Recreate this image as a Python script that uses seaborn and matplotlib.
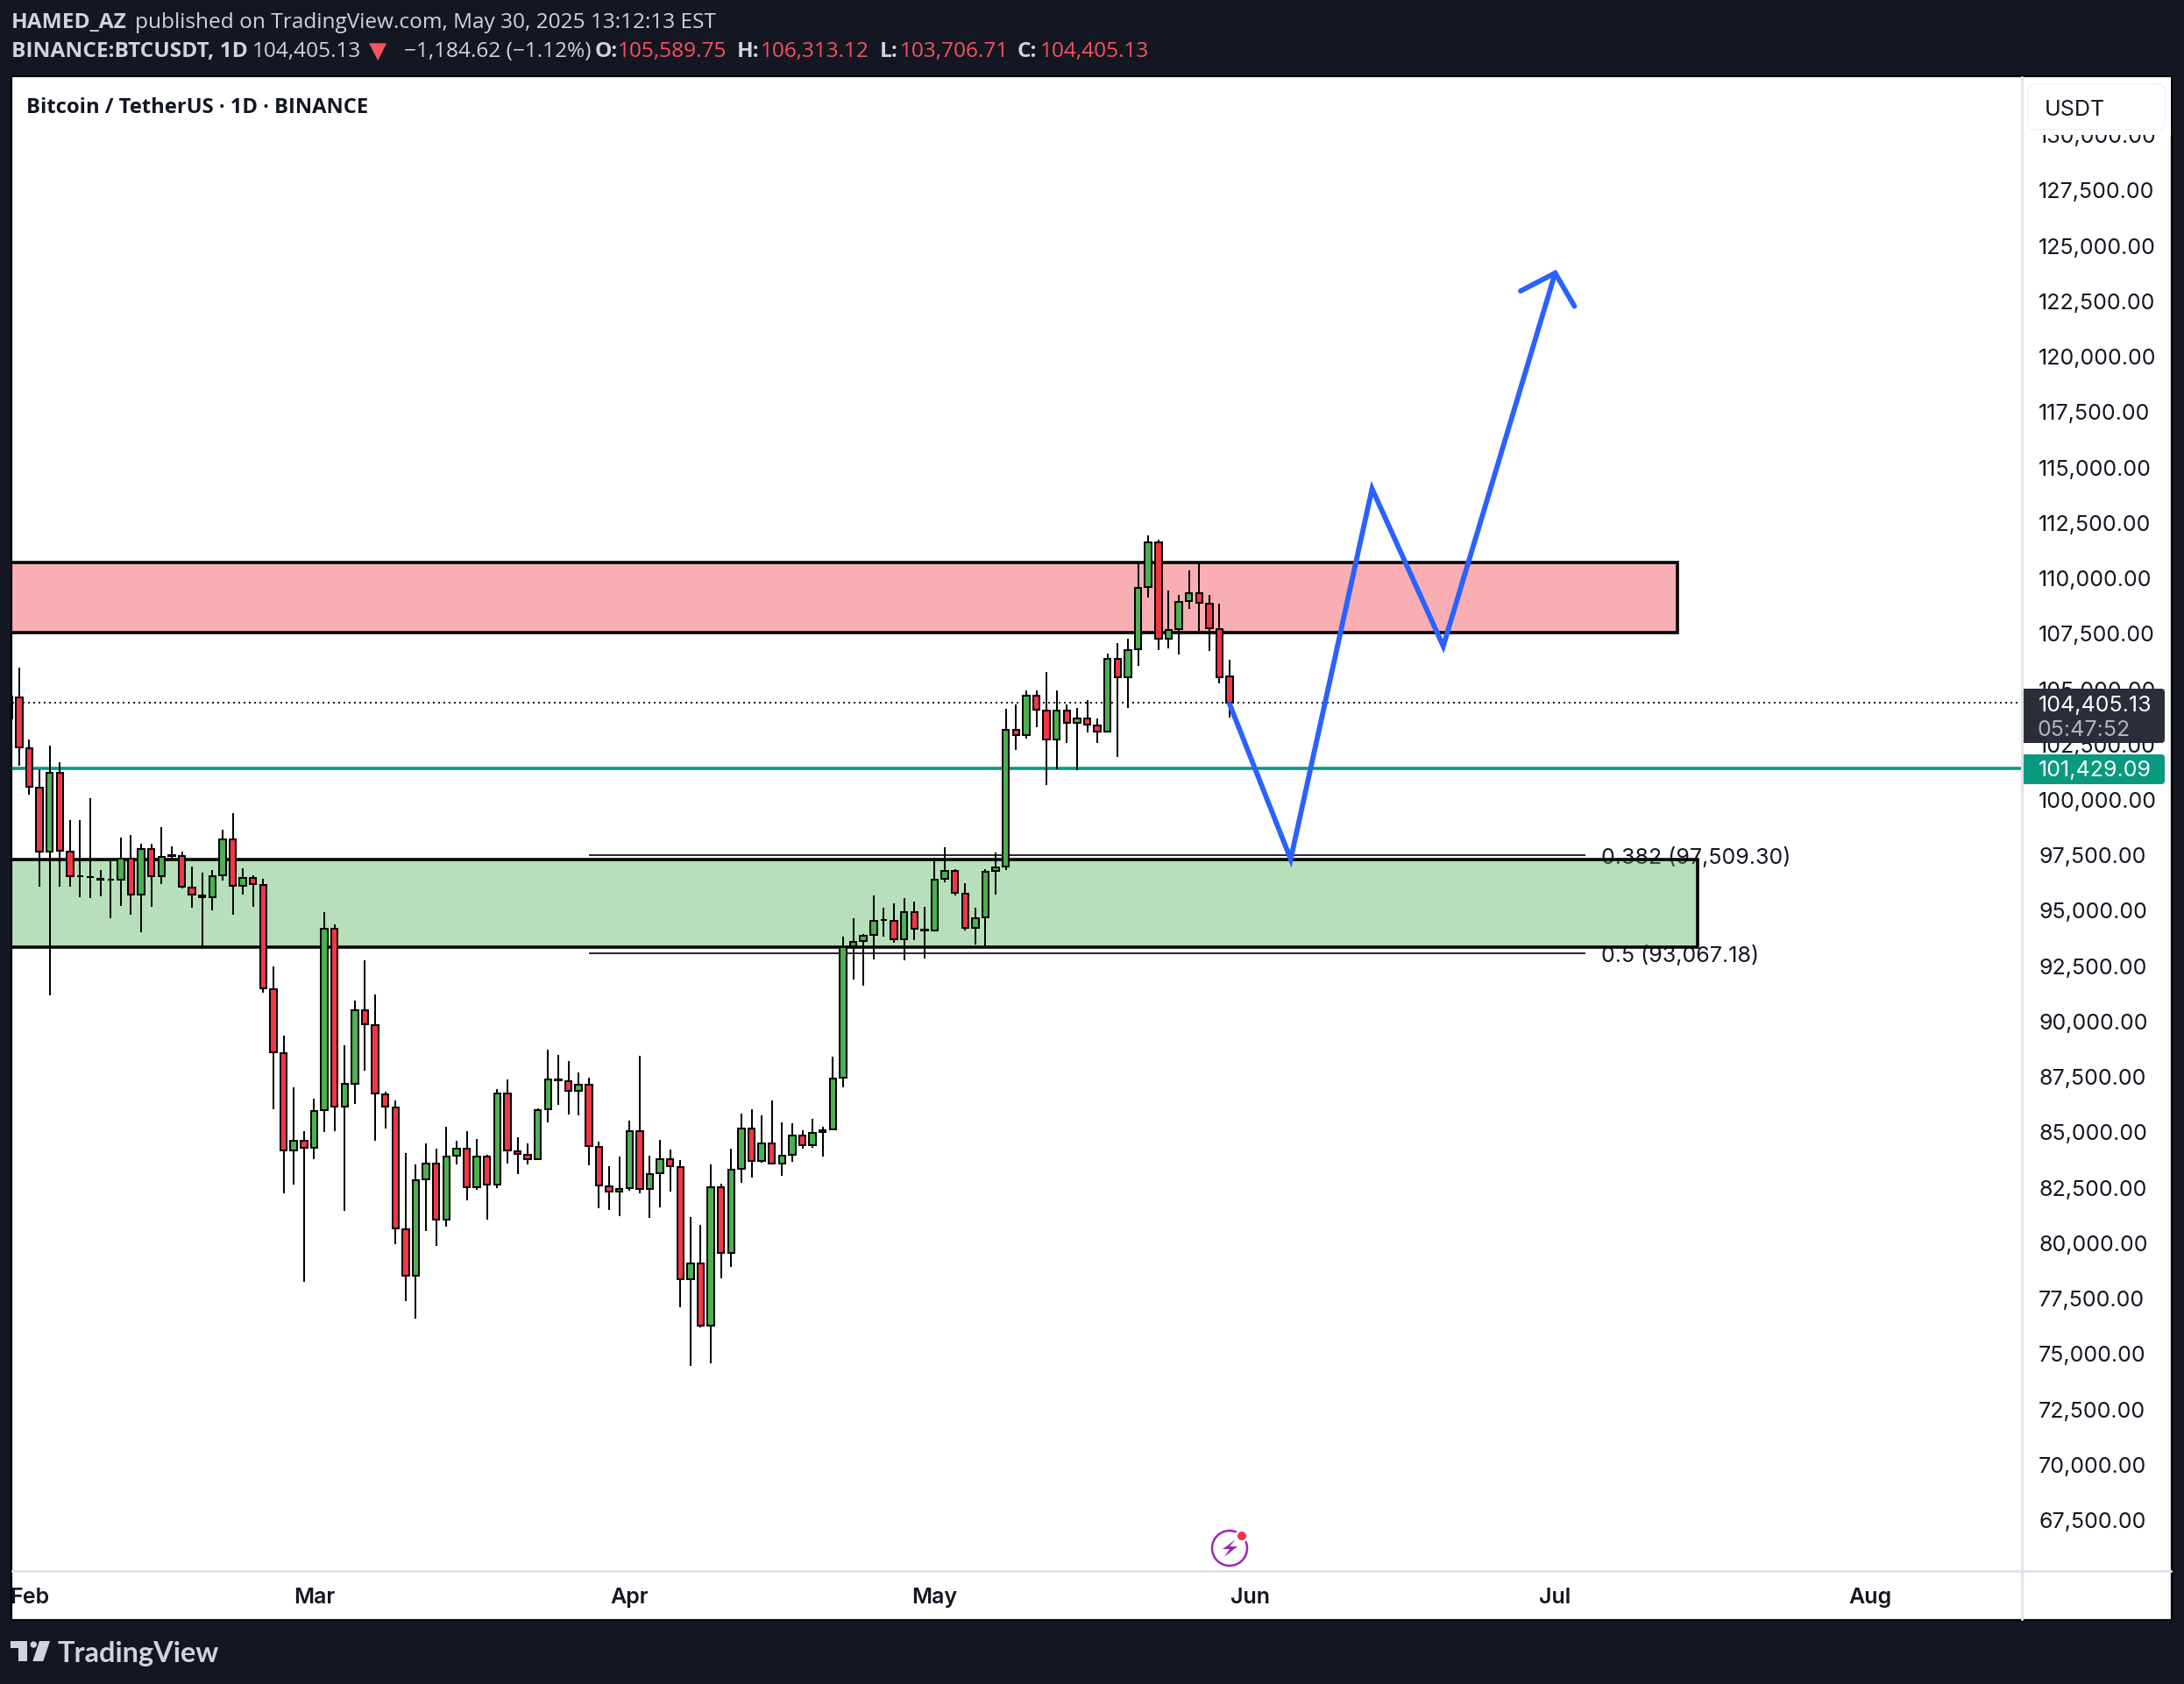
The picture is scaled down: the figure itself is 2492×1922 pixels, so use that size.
import numpy as np
import pandas as pd
import seaborn as sns
import matplotlib.pyplot as plt
from matplotlib.patches import Rectangle, FancyBboxPatch, Polygon, Circle

# daily candles, Jan 30 -> May 30 2025
opens = [
    103660, 104628, 102329, 100554, 97671, 101220, 97671, 96580, 96540, 96420,
    96420, 96400, 97348, 95735, 97791, 96561, 97490, 97469, 96037, 95690,
    95614, 96601, 98215, 96118, 96481, 96158, 91459, 88575, 84200, 84623,
    84300, 86015, 94182, 86176, 87204, 90512, 89846, 86720, 86136, 80630,
    78533, 82889, 83594, 81074, 83957, 84260, 82526, 83917, 82649, 86772,
    84164, 84006, 83795, 86048, 87410, 87313, 86878, 87168, 84348, 82583,
    82333, 82491, 85060, 82451, 83163, 83795, 83439, 78380, 79091, 76285,
    82530, 79566, 83360, 85178, 83716, 84506, 83597, 83993, 84862, 84427,
    85100, 85139, 87471, 93385, 93639, 93921, 94600, 94542, 93723, 94937,
    94150, 94119, 96434, 96815, 95770, 94232, 94711, 96815, 96998, 103168,
    102942, 104721, 104029, 102716, 104029, 103478, 103676, 103365, 103083, 106358,
    105539, 106796, 109605, 111638, 107276, 107713, 108970, 109337, 108871, 107713,
    105589.75,
]
highs = [
    104668, 105959, 102732, 101401, 102450, 101704, 99082, 99082, 100070, 96844,
    97227, 98295, 98417, 98034, 98034, 98780, 97912, 97671, 97005, 96723,
    96844, 98659, 99405, 96924, 96601, 96440, 92488, 89362, 87043, 85067,
    86519, 94948, 94383, 88939, 90955, 92770, 91218, 86841, 86438, 84078,
    83555, 84502, 84260, 85248, 84623, 85067, 84704, 83998, 86944, 87392,
    84783, 84506, 86087, 88736, 88498, 88222, 87708, 87471, 84585, 83479,
    83914, 85534, 88459, 83953, 84665, 84230, 83755, 81186, 80831, 83558,
    82688, 84269, 85850, 86048, 85771, 86443, 85455, 85416, 85099, 85613,
    85257, 88419, 93822, 94669, 93949, 95686, 95135, 95333, 95573, 95418,
    95178, 97380, 97860, 96871, 96236, 95135, 96871, 97648, 104114, 104325,
    104946, 104946, 105765, 104946, 104297, 104156, 104509, 103676, 106598, 107078,
    107276, 110678, 111934, 111737, 109435, 109238, 110353, 110678, 109238, 108843,
    106313.12,
]
lows = [
    103660, 101522, 100252, 96078, 91177, 96078, 96078, 95614, 95573, 95654,
    94666, 95210, 94827, 94041, 95170, 96198, 97287, 96017, 95130, 93395,
    95009, 96360, 94827, 95735, 95170, 91318, 86035, 82244, 82647, 78251,
    83797, 85027, 85067, 81457, 86277, 87789, 84623, 85187, 79965, 77383,
    76601, 80550, 79884, 80752, 83555, 81941, 82405, 81074, 82504, 83597,
    83123, 83558, 83795, 85455, 86245, 85811, 85771, 83518, 81582, 81503,
    81226, 82372, 82253, 81147, 81621, 82333, 77115, 74467, 76206, 74586,
    78419, 78933, 82728, 82964, 83637, 83597, 83044, 83676, 84269, 84309,
    83914, 85139, 87036, 91916, 91634, 92820, 93850, 93569, 92777, 93681,
    92862, 94119, 96279, 95686, 94105, 93483, 93385, 95742, 96843, 102250,
    102773, 103281, 100669, 101389, 102575, 101361, 103055, 102575, 103083, 101940,
    104156, 106062, 109125, 106754, 106838, 106570, 108617, 107572, 106725, 105257,
    103706.71,
]
closes = [
    104668, 102369, 100595, 97671, 101220, 97711, 96561, 96561, 96521, 96440,
    96400, 97348, 95735, 97791, 96561, 97429, 97509, 96098, 95735, 95620,
    96561, 98215, 96118, 96481, 96198, 91500, 88616, 84200, 84623, 84300,
    85974, 94182, 86176, 87204, 90512, 89886, 86761, 86176, 80671, 78533,
    82848, 83594, 81074, 83917, 84260, 82526, 83917, 82647, 86772, 84177,
    84019, 83795, 86022, 87392, 87340, 86878, 87168, 84388, 82609, 82333,
    82464, 85060, 82451, 83123, 83795, 83479, 78380, 79091, 76285, 82530,
    79566, 83321, 85178, 83716, 84506, 83597, 83953, 84862, 84427, 84981,
    85020, 87431, 93342, 93596, 93879, 94542, 94570, 93723, 94937, 94175,
    94115, 96420, 96815, 95799, 94232, 94669, 96773, 96971, 103168, 102942,
    104721, 104071, 102716, 104029, 103478, 103676, 103408, 103083, 106358, 105539,
    106754, 109577, 111638, 107276, 107671, 108941, 109337, 108899, 107756, 105539,
    104405.13,
]

# drawings on the chart
resistance_zone = [107558, 110720]
support_zone = [93371, 97295]
zone_end_days = [164, 166]
fib_levels = [97509.30, 93067.18]
fib_labels = ["0.382 (97,509.30)", "0.5 (93,067.18)"]
fib_days = [57, 155]
path_days = [120, 126, 134, 141, 152]
path_prices = [104320, 97328, 114036, 106940, 123770]
arrow_days = [148.6, 152, 153.9]
arrow_prices = [122960, 123770, 122270]

last_price = 104405.13
last_price_text = "104,405.13"
countdown_text = "05:47:52"
teal_price = 101429.09
teal_price_text = "101,429.09"

price_ticks = list(range(67500, 130001, 2500))
month_names = ["Feb", "Mar", "Apr", "May", "Jun", "Jul", "Aug"]
month_starts = ["2025-02-01", "2025-03-01", "2025-04-01", "2025-05-01", "2025-06-01", "2025-07-01", "2025-08-01"]

UP = "#4caf50"
DOWN = "#f23645"
DARK = "#131722"
GREY = "#d1d4dc"
LINE = "#e0e3eb"
HEAD_RED = "#f7525f"
TEAL = "#089981"
BLUE = "#2962ff"
FONT = 9.0

W, H = 2492, 1922
DPI = 200

sns.set_theme(style="white")
plt.rcParams["font.family"] = ["Inter", "DejaVu Sans"]

dates = pd.date_range("2025-01-30", periods=len(closes))
df = pd.DataFrame({"day": (dates - dates[0]).days, "open": opens, "high": highs, "low": lows, "close": closes})
df["body_low"] = df[["open", "close"]].min(axis=1)
df["body"] = (df["close"] - df["open"]).abs()
up = df[df["close"] >= df["open"]]
down = df[df["close"] < df["open"]]

fig = plt.figure(figsize=(W / DPI, H / DPI), dpi=DPI, facecolor=DARK)

# pixel canvas behind the chart: panel and header
bg = fig.add_axes([0, 0, 1, 1], zorder=0)
bg.set_xlim(0, W)
bg.set_ylim(H, 0)
bg.axis("off")
bg.add_patch(Rectangle((13, 87), 2465, 1762, facecolor="white", edgecolor="black", linewidth=0.8))

# main chart
ax = fig.add_axes([14 / W, 1 - 1793 / H, (2307 - 14) / W, (1793 - 88) / H], zorder=5)
ax.patch.set_alpha(0)

ax.hlines(fib_levels, fib_days[0], fib_days[1], color="black", linewidth=0.6, zorder=1)
for level, label in zip(fib_levels, fib_labels):
    ax.text(156.5, level - 100, label, color=DARK, fontsize=FONT, va="center", ha="left", zorder=1, clip_on=False)

for (low, high), end, color in zip([resistance_zone, support_zone], zone_end_days, [DOWN, UP]):
    ax.add_patch(Rectangle((-5, low), end + 5, high - low, facecolor=color, alpha=0.4, edgecolor="none", zorder=2))
    ax.add_patch(Rectangle((-5, low), end + 5, high - low, facecolor="none", edgecolor="black", linewidth=1.3, zorder=2.1))

ax.axhline(last_price, color=DARK, linewidth=0.72, linestyle=(0, (1, 2)), zorder=2.5)
ax.axhline(teal_price, color=TEAL, linewidth=1.3, zorder=2.5)

ax.vlines(df["day"], df["low"], df["high"], color="black", linewidth=0.72, zorder=3)
for part, color in [(up, UP), (down, DOWN)]:
    sns.barplot(data=part, x="day", y="body", bottom=part["body_low"].values, native_scale=True,
                color=color, saturation=1, width=0.64, errorbar=None, edgecolor="black",
                linewidth=0.72, zorder=4, ax=ax)

sns.lineplot(x=path_days, y=path_prices, sort=False, estimator=None, color=BLUE, linewidth=2.1,
             solid_joinstyle="miter", zorder=6, ax=ax)
sns.lineplot(x=arrow_days, y=arrow_prices, sort=False, estimator=None, color=BLUE, linewidth=2.1,
             solid_joinstyle="miter", zorder=6, ax=ax)

ax.set_xlim(0.328, 197.88)
ax.set_ylim(65217, 132609)
ax.yaxis.tick_right()
ax.set_yticks(price_ticks)
ax.set_yticklabels([f"{p:,.2f}" for p in price_ticks], fontsize=FONT, color=DARK)
tick_days = [(pd.Timestamp(d) - dates[0]).days for d in month_starts]
ax.set_xticks(tick_days)
ax.set_xticklabels(month_names, fontsize=FONT, color=DARK, fontweight="semibold")
ax.tick_params(axis="y", length=0, pad=6.84)
ax.tick_params(axis="x", length=0, pad=6.8)
ax.set_xlabel("")
ax.set_ylabel("")
for side in ax.spines:
    ax.spines[side].set_visible(False)

# overlay in pixels: scale boxes, header, logo
fg = fig.add_axes([0, 0, 1, 1], zorder=10)
fg.set_xlim(0, W)
fg.set_ylim(H, 0)
fg.axis("off")
fg.patch.set_alpha(0)

fg.plot([2307, 2307], [88, 1848], color=LINE, linewidth=1.1)
fg.plot([14, 2477], [1793, 1793], color=LINE, linewidth=1.1)

fg.add_patch(Rectangle((2309, 89), 168, 65, facecolor="white", edgecolor="none"))
fg.add_patch(FancyBboxPatch((2318, 100), 148, 44, boxstyle="round,pad=4,rounding_size=8",
                            facecolor="white", edgecolor="#f0f3fa", linewidth=0.6))
fg.text(2333, 125, "USDT", color=DARK, fontsize=FONT, va="center", ha="left")

fg.add_patch(FancyBboxPatch((2312, 790), 154, 54, boxstyle="round,pad=4,rounding_size=4",
                            facecolor="#2a2e39", edgecolor="none"))
fg.add_patch(Rectangle((2308, 786), 10, 62, facecolor="#2a2e39", edgecolor="none"))
fg.text(2326, 805, last_price_text, color="white", fontsize=FONT, va="center", ha="left")
fg.text(2325, 833, countdown_text, color="#b2b5be", fontsize=FONT, va="center", ha="left")
fg.add_patch(FancyBboxPatch((2312, 865), 154, 26, boxstyle="round,pad=4,rounding_size=4",
                            facecolor=TEAL, edgecolor="none"))
fg.add_patch(Rectangle((2308, 861), 10, 34, facecolor=TEAL, edgecolor="none"))
fg.text(2326, 880, teal_price_text, color="white", fontsize=FONT, va="center", ha="left")

head = {"family": ["Open Sans", "DejaVu Sans"], "fontsize": 8.8, "va": "center", "ha": "left"}
fg.text(13, 26.5, "HAMED_AZ", color=GREY, fontweight="bold", **head)
fg.text(153.5, 26.5, "published on TradingView.com, May 30, 2025 13:12:13 EST", color=GREY, **head)
fg.text(13, 59, "BINANCE:BTCUSDT, 1D", color=GREY, fontweight="bold", **head)
fg.text(287.5, 59, "104,405.13", color=GREY, **head)
fg.text(421, 59, "▼", color=HEAD_RED, family="DejaVu Sans", fontsize=9.5, va="center", ha="left")
fg.text(461, 59, "−1,184.62 (−1.12%)", color=GREY, **head)
ohlc_x = [(678.6, 705), (841, 868), (1004, 1027), (1161, 1187)]
ohlc_txt = [("O:", "105,589.75"), ("H:", "106,313.12"), ("L:", "103,706.71"), ("C:", "104,405.13")]
for (x_key, x_val), (key, val) in zip(ohlc_x, ohlc_txt):
    fg.text(x_key, 59, key, color=GREY, fontweight="bold", **head)
    fg.text(x_val, 59, val, color=HEAD_RED, **head)

fg.text(30, 123, "Bitcoin / TetherUS · 1D · BINANCE", color=DARK, family=["Open Sans", "DejaVu Sans"],
        fontsize=8.55, fontweight="bold", va="center", ha="left")

# logo
fg.add_patch(Polygon([(12, 1873), (30.7, 1873), (30.7, 1896), (20.7, 1896), (20.7, 1881), (12, 1881)], facecolor=GREY, edgecolor="none"))
fg.add_patch(Circle((38.3, 1877), 3.7, facecolor=GREY, edgecolor="none"))
fg.add_patch(Polygon([(45, 1873), (57, 1873), (49.3, 1896), (37.3, 1896)], facecolor=GREY, edgecolor="none"))
fg.text(66, 1888, "TradingView", color=GREY, family=["Lato", "DejaVu Sans"], fontsize=11.7, fontweight="bold",
        va="center", ha="left")

# lightning badge at the bottom of the pane
fg.add_patch(Circle((1403, 1767), 20, facecolor="white", edgecolor="#9c27b0", linewidth=0.9))
fg.add_patch(Polygon([(1410, 1757), (1395, 1768), (1403, 1768), (1397, 1777), (1412, 1765), (1403, 1765)],
                     facecolor="#9c27b0", edgecolor="none"))
fg.add_patch(Circle((1417, 1753), 7.5, facecolor="white", edgecolor="none"))
fg.add_patch(Circle((1417, 1753), 5, facecolor=DOWN, edgecolor="none"))

fig.savefig("out.png", dpi=DPI, facecolor=DARK)
